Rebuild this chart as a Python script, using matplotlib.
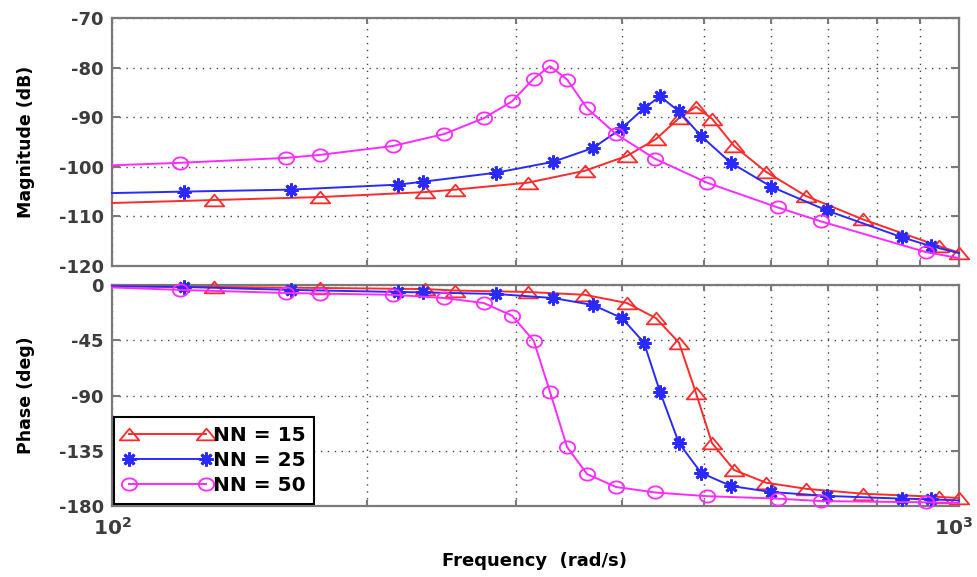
import numpy as np
import matplotlib
matplotlib.use("Agg")
import matplotlib.pyplot as plt
import matplotlib.transforms as mtransforms
from matplotlib.path import Path
from matplotlib.ticker import FixedLocator, FuncFormatter, NullFormatter

plt.rcParams['axes.unicode_minus'] = False
plt.rcParams['font.family'] = ['DejaVu Sans']

# ---------------- data ----------------
labels = ["NN = 15", "NN = 25", "NN = 50"]

freq_15 = [100, 131.9, 176.0, 234.2, 254.1, 309.8, 361.7, 405.5, 438.8, 467.1,
           489.2, 510.9, 542.6, 591.7, 659.8, 770.1, 947.0, 1000]
mag_15 = [-107.3, -106.7, -106.1, -105.1, -104.6, -103.2, -100.8, -97.8, -94.4, -90.2,
          -87.9, -90.3, -95.8, -101.0, -105.9, -110.6, -116.0, -117.3]
phase_15 = [-1.0, -1.6, -2.4, -3.3, -4.5, -5.7, -8.0, -14.7, -27.0, -47.0,
            -88.0, -128.7, -150.7, -161.0, -166.0, -170.0, -172.6, -173.5]

freq_25 = [100, 121.6, 162.7, 217.6, 232.9, 284.0, 331.6, 369.8, 400.1, 424.7,
           443.6, 467.0, 496.0, 538.0, 600.0, 698.0, 856.0, 926.7, 1000]
mag_25 = [-105.3, -105.0, -104.6, -103.6, -103.0, -101.2, -99.0, -96.2, -92.2, -88.2,
          -85.8, -88.8, -93.8, -99.2, -104.0, -108.8, -114.2, -116.0, -117.4]
phase_25 = [-1.0, -1.6, -4.0, -5.7, -6.0, -7.3, -10.6, -16.3, -27.0, -47.0,
            -87.0, -128.7, -153.0, -163.7, -168.6, -171.8, -174.0, -174.5, -175.5]

freq_50 = [100, 120.3, 160.5, 176.0, 214.7, 246.6, 274.8, 296.7, 314.8, 328.9,
           344.6, 363.8, 393.6, 437.8, 504.0, 611.0, 687.0, 914.0, 1000]
mag_50 = [-99.7, -99.2, -98.2, -97.6, -95.8, -93.4, -90.2, -86.8, -82.2, -79.7,
          -82.4, -88.2, -93.4, -98.4, -103.2, -108.2, -111.0, -117.2, -118.4]
phase_50 = [-2.0, -4.0, -6.5, -7.0, -8.0, -10.6, -14.7, -25.0, -45.6, -87.0,
            -132.0, -154.0, -164.5, -169.0, -172.0, -174.0, -176.0, -177.0, -177.5]

mag_ticks = [-120, -110, -100, -90, -80, -70]
phase_ticks = [-180, -135, -90, -45, 0]
x_major = [100, 1000]
x_minor = [200, 300, 400, 500, 600, 700, 800, 900]

# ---------------- marker shapes ----------------
tri = Path([(0, 0.6), (-1, -0.6), (1, -0.6), (0, 0.6)],
           [Path.MOVETO, Path.LINETO, Path.LINETO, Path.CLOSEPOLY])
th = np.linspace(0, 2 * np.pi, 41)
ell = Path(np.column_stack([np.cos(th), 0.8 * np.sin(th)]))

styles = [
    dict(color='#ff2a2a', marker=tri, markersize=14, mfc='none', mew=1.3),
    dict(color='#2a2aff', marker=(8, 2, 0), markersize=10, mew=2.0),
    dict(color='#ff2aff', marker=ell, markersize=11, mfc='none', mew=1.3),
]

series = [(freq_15, mag_15, phase_15, labels[0]),
          (freq_25, mag_25, phase_25, labels[1]),
          (freq_50, mag_50, phase_50, labels[2])]

W, H = 977, 577
fig = plt.figure(figsize=(W / 100, H / 100), dpi=100)
fig.patch.set_facecolor('white')

def frac(x0, y0, x1, y1):
    return [x0 / W, 1 - y1 / H, (x1 - x0) / W, (y1 - y0) / H]

ax1 = fig.add_axes(frac(112, 18, 959, 266))
ax2 = fig.add_axes(frac(112, 285, 959, 506))

tick_color = '#3c3c3c'
spine_color = '#7a7a7a'

for ax in (ax1, ax2):
    ax.set_xscale('log')
    ax.set_xlim(100, 1000)
    ax.xaxis.set_major_locator(FixedLocator(x_major))
    ax.xaxis.set_minor_locator(FixedLocator(x_minor))
    ax.xaxis.set_minor_formatter(NullFormatter())
    ax.grid(True, which='both', axis='x', linestyle=(0, (1, 4)), color='#444444', linewidth=1.0)
    ax.grid(True, which='major', axis='y', linestyle=(0, (1, 4)), color='#444444', linewidth=1.0)
    ax.tick_params(which='both', direction='in', top=True, right=True,
                   color=spine_color, width=1.5)
    ax.tick_params(which='major', length=6)
    ax.tick_params(which='minor', length=4)
    ax.tick_params(axis='y', labelsize=13, labelcolor=tick_color, pad=6)
    ax.tick_params(axis='x', labelsize=14.5, labelcolor=tick_color, pad=8)
    for sp in ax.spines.values():
        sp.set_color(spine_color)
        sp.set_linewidth(1.6)

ax1.set_ylim(-120, -70)
ax1.set_yticks(mag_ticks)
ax1.xaxis.set_major_formatter(NullFormatter())

ax2.set_ylim(-180, 0)
ax2.set_yticks(phase_ticks)
ax2.xaxis.set_major_formatter(FuncFormatter(lambda v, p: r'$\mathbf{10^{%d}}$' % int(round(np.log10(v)))))

for ax in (ax1, ax2):
    for lab in ax.get_yticklabels() + ax.get_xticklabels():
        lab.set_fontweight('bold')

# nudge the right-most decade label so it stays inside the figure
last_lab = ax2.get_xticklabels()[-1]
last_lab.set_transform(last_lab.get_transform() +
                       mtransforms.ScaledTranslation(-6 / 100, 0, fig.dpi_scale_trans))

for (f, m, p, lab), st in zip(series, styles):
    n = len(f)
    idx = list(range(1, n - 1)) if lab != "NN = 15" else list(range(1, n))
    ax1.plot(f, m, linewidth=1.4, markevery=idx, clip_on=False, zorder=3, **st)
    ax2.plot(f, p, linewidth=1.4, markevery=idx, clip_on=False, zorder=3, label=lab, **st)

leg = ax2.legend(loc='lower left', bbox_to_anchor=(0.0, 0.0), borderaxespad=0.1,
                 numpoints=2, handlelength=4.4, handletextpad=0.05, labelspacing=0.3,
                 borderpad=0.45, fancybox=False, framealpha=1,
                 prop={'weight': 'bold', 'size': 14.5})
leg.get_frame().set_edgecolor('black')
leg.get_frame().set_linewidth(1.5)

fig.text(26 / W, 1 - 142 / H, 'Magnitude (dB)', rotation=90, ha='center', va='center',
         fontsize=12.5, fontweight='bold')
fig.text(26 / W, 1 - 395 / H, 'Phase (deg)', rotation=90, ha='center', va='center',
         fontsize=12.5, fontweight='bold')
fig.text(535 / W, 1 - 561 / H, 'Frequency  (rad/s)', ha='center', va='center',
         fontsize=13, fontweight='bold')

fig.savefig('out.png', dpi=100, facecolor='white')
